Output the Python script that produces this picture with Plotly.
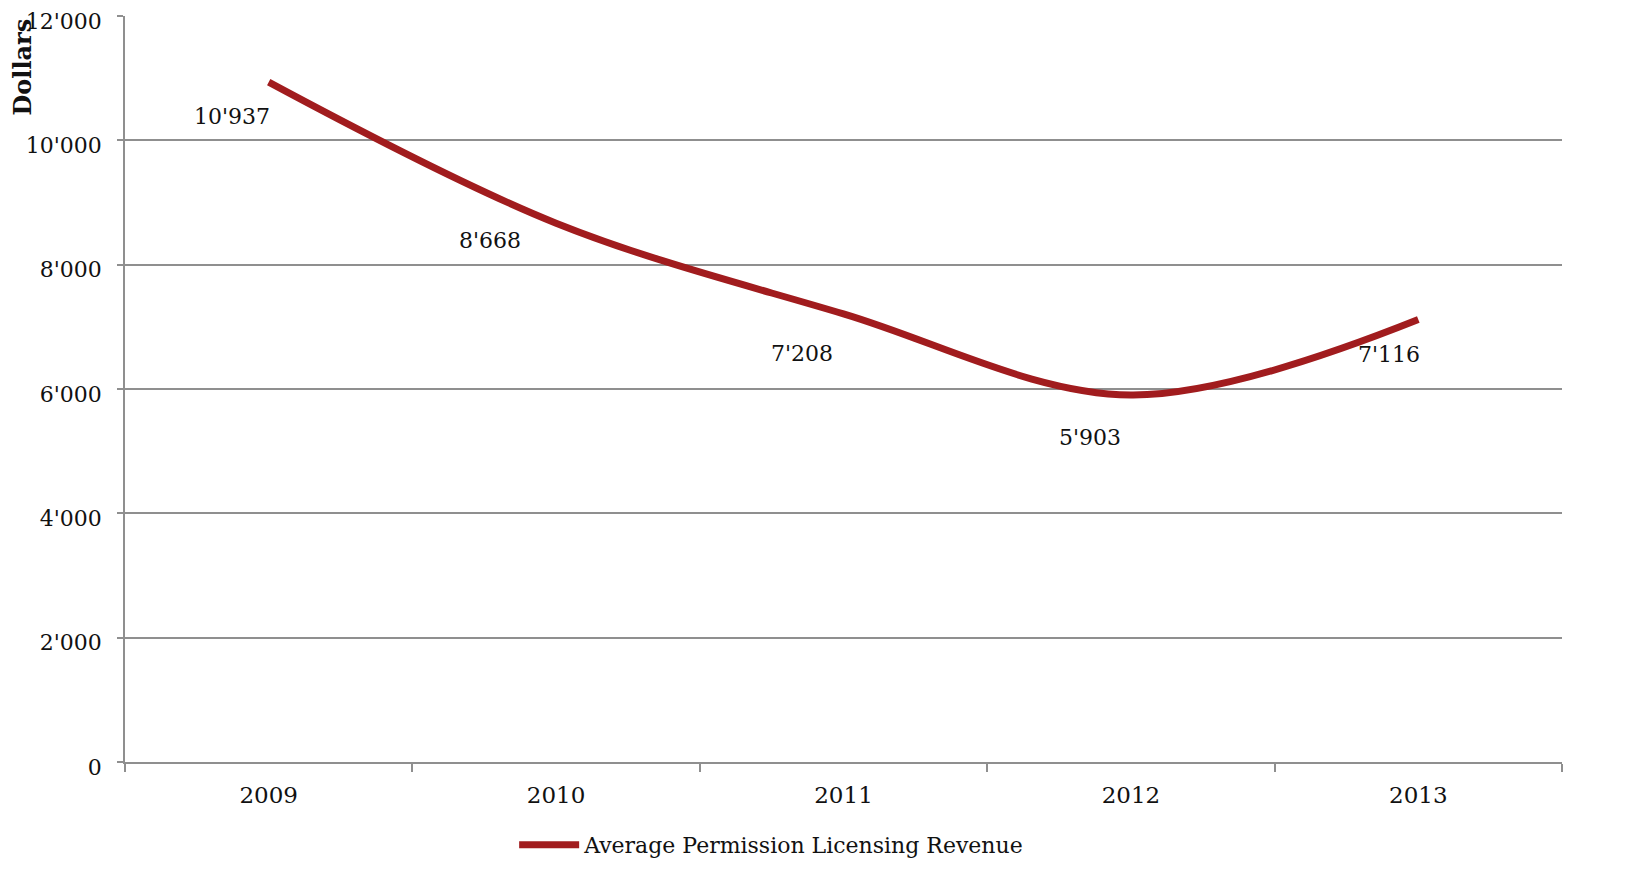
import plotly.graph_objects as go

years = ["2009", "2010", "2011", "2012", "2013"]
revenue = [10937, 8668, 7208, 5903, 7116]
series_name = "Average Permission Licensing Revenue"
y_ticks = [0, 2000, 4000, 6000, 8000, 10000, 12000]

FONT = "DejaVu Serif"
LINE_COLOR = "#a11c1e"
GRID = "#8f8f8f"

# label offsets (pixels) relative to data point
label_dx = [-37, -66, -42, -41, -29]
label_dy = [-34, -17, -40, -42, -35]

fig = go.Figure()
fig.add_trace(go.Scatter(
    x=years, y=revenue, mode="lines", name=series_name,
    line=dict(color=LINE_COLOR, width=7, shape="spline", smoothing=1.0),
    hoverinfo="skip",
))

for i, v in enumerate(revenue):
    fig.add_annotation(
        x=i, y=v, xref="x", yref="y",
        text=f"{v:,}".replace(",", "'"),
        showarrow=False, xshift=label_dx[i], yshift=label_dy[i],
        font=dict(family=FONT, size=22, color="#111"),
    )

fig.add_annotation(
    xref="paper", yref="paper", x=0, y=1, xshift=-103, yshift=-1,
    xanchor="center", yanchor="top", textangle=-90,
    text="<b>Dollars</b>", showarrow=False,
    font=dict(family=FONT, size=24, color="#111"),
)

fig.update_layout(
    margin=dict(l=117, r=55, t=8, b=122, autoexpand=False),
    paper_bgcolor="white", plot_bgcolor="white",
    separators=".'",
    showlegend=True,
    legend=dict(orientation="h", x=0.45, xanchor="center", y=-0.083, yanchor="top",
                font=dict(family=FONT, size=22, color="#111"),
                itemwidth=60),
    font=dict(family=FONT, size=23, color="#111"),
)
fig.update_xaxes(
    type="category", tickson="boundaries", ticks="outside", ticklen=8,
    tickcolor=GRID, tickwidth=1.5, showline=True, linecolor=GRID, linewidth=1.5,
    showgrid=False, range=[-0.5, 4.5], ticklabelstandoff=12, automargin=False,
    tickfont=dict(family=FONT, size=23, color="#111"),
)
fig.update_yaxes(
    range=[0, 12000], tickvals=y_ticks, tickformat=",d",
    ticks="outside", ticklen=6, tickcolor=GRID, tickwidth=1.5,
    showline=True, linecolor=GRID, linewidth=1.5,
    showgrid=True, gridcolor=GRID, gridwidth=1.5, zeroline=False,
    ticklabelstandoff=11, ticklabelshift=5, automargin=False,
    ticklabeloverflow="allow",
    tickfont=dict(family=FONT, size=22, color="#111"),
)

fig.write_html("out.html")
